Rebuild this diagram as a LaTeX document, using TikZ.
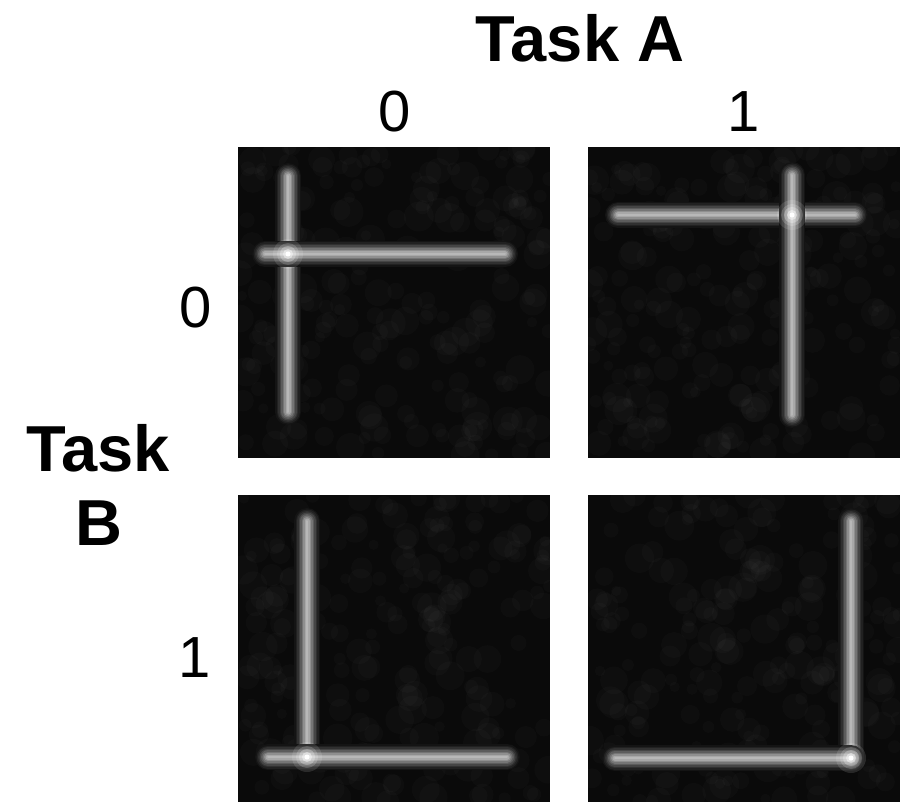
\documentclass[tikz,border=0pt]{standalone}
\usepackage{fontspec}
\setmainfont{Liberation Sans}
\begin{document}
\begin{tikzpicture}[x=1pt,y=-1pt,
  panelbg/.style={fill=white!4!black},
  glow/.style n args={2}{line width=#1pt,draw=white!#2!black,line cap=round},
  numlab/.style={font=\fontsize{58}{58}\selectfont,anchor=base,inner sep=0pt},
  tasklab/.style={font=\fontsize{65}{65}\selectfont\bfseries,anchor=base,inner sep=0pt}]
\useasboundingbox[fill=white] (0,0) rectangle (913,802);
\pgfmathsetseed{4242}
\newcommand\noisepanel[4]{%
  \begin{scope}
    \clip (#1,#2) rectangle (#3,#4);
    \fill[panelbg] (#1,#2) rectangle (#3,#4);
    \foreach \k in {1,...,220}{
      \pgfmathsetmacro\nx{#1+rnd*(#3-#1)}
      \pgfmathsetmacro\ny{#2+rnd*(#4-#2)}
      \pgfmathsetmacro\nr{5+rnd*10}
      \fill[white,opacity=0.018] (\nx,\ny) circle[radius=\nr pt];
    }
  \end{scope}}
\newcommand\glowbar[2]{%
  \foreach \w/\g in {26/8,23/13,20/19,17/27,14/36,11/46,8/56,5/66,2/72}{
    \draw[glow={\w}{\g}] #1 -- #2;}}
\newcommand\hotspot[1]{%
  \fill[white,opacity=0.12] #1 circle[radius=15pt];
  \fill[white,opacity=0.18] #1 circle[radius=11pt];
  \fill[white,opacity=0.28] #1 circle[radius=8pt];
  \fill[white,opacity=0.45] #1 circle[radius=5pt];
  \fill[white] #1 circle[radius=2.5pt];}

% panels
\noisepanel{238}{147}{550}{458}
\noisepanel{588}{147}{900}{458}
\noisepanel{238}{495}{550}{802}
\noisepanel{588}{495}{900}{802}

% top-left
\glowbar{(288,176)}{(288,412)}
\glowbar{(265,254)}{(505,254)}
\hotspot{(288,254)}
% top-right
\glowbar{(618,215)}{(855,215)}
\glowbar{(792,175)}{(792,415)}
\hotspot{(792,215)}
% bottom-left
\glowbar{(307,521)}{(307,757)}
\glowbar{(268,757)}{(507,757)}
\hotspot{(307,757)}
% bottom-right
\glowbar{(851,521)}{(851,758)}
\glowbar{(615,758)}{(851,758)}
\hotspot{(851,758)}

% labels
\node[tasklab] (taskA) at (580,62) {Task A};
\node[numlab] (a0) at (395,132) {0};
\node[numlab] (a1) at (744,132) {1};
\node[tasklab] (taskB1) at (98,471) {Task};
\node[tasklab] (taskB2) at (99,545) {B};
\node[numlab] (b0) at (196,327) {0};
\node[numlab] (b1) at (195,677) {1};
\end{tikzpicture}
\end{document}
